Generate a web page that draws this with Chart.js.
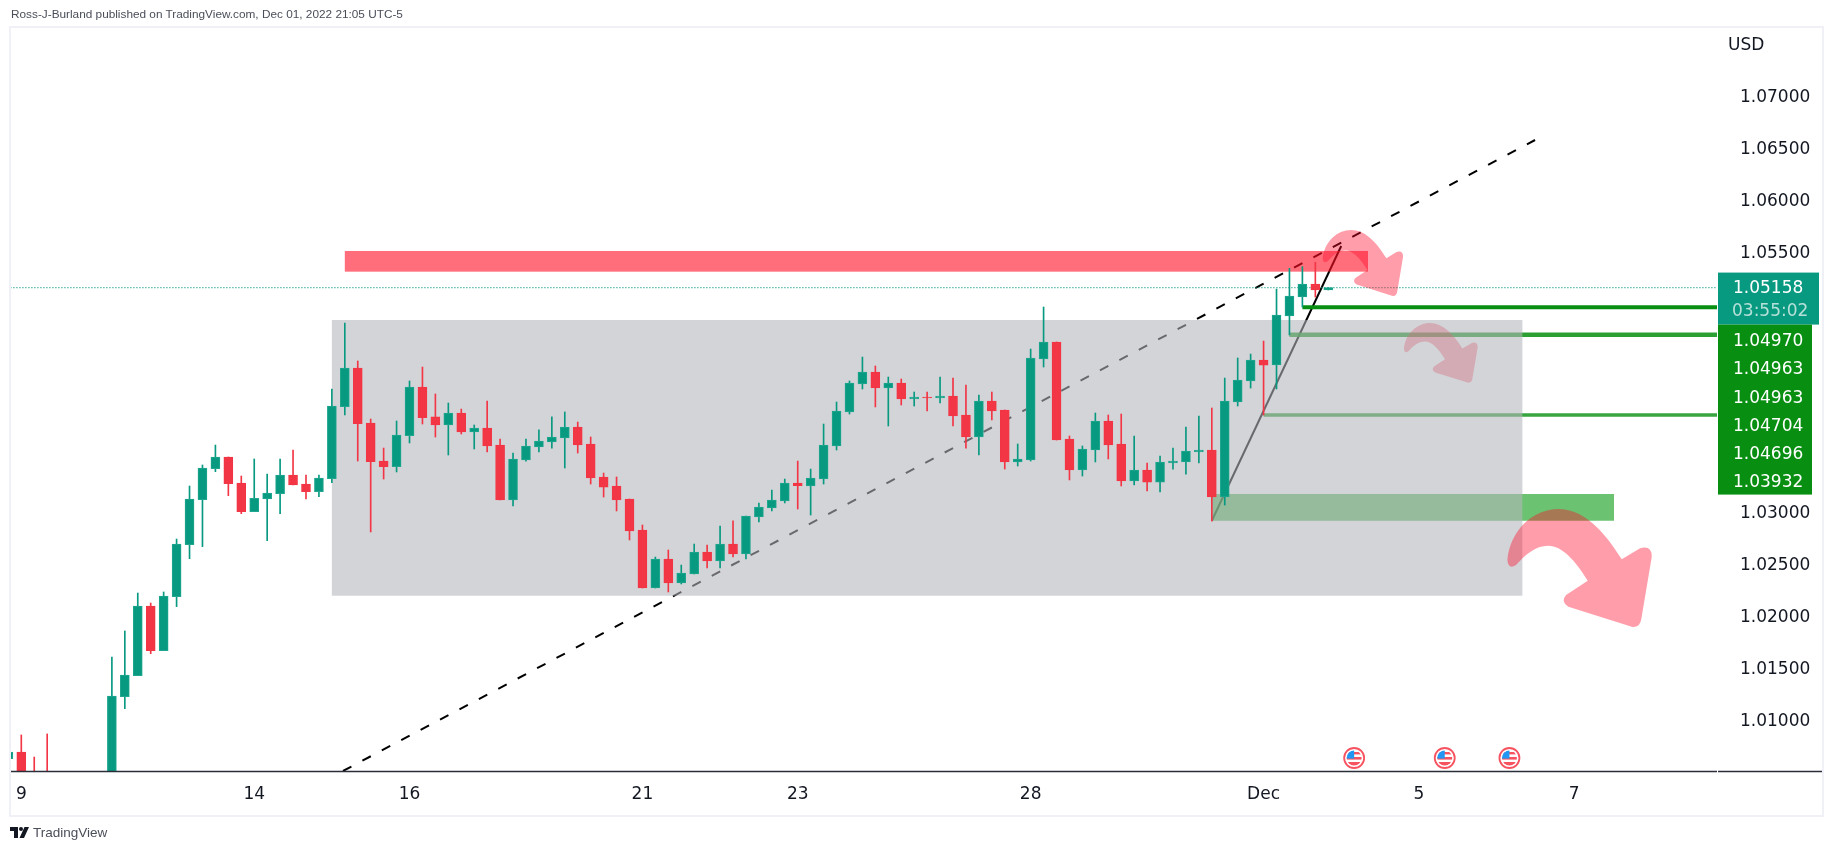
<!DOCTYPE html>
<html>
<head>
<meta charset="utf-8">
<title>EUR/USD</title>
<script src="https://cdn.jsdelivr.net/npm/chart.js@4"></script>
<style>
  html, body { margin: 0; padding: 0; background: #fff; }
  #wrap { position: relative; width: 1834px; height: 850px; overflow: hidden; }
  #frame { position: absolute; left: 9px; top: 26px; width: 1811px; height: 787px; border: 2px solid #f0f1f6; }
  canvas { position: absolute; left: 0; top: 0; }
  #pub { position: absolute; left: 11px; top: 7px; font: 11.8px "Liberation Sans", sans-serif; color: #4a4e59; white-space: nowrap; }
  #brand { position: absolute; left: 33px; top: 825px; font: 13.5px "Liberation Sans", sans-serif; color: #4a4e59; }
  #logo { position: absolute; left: 10px; top: 827px; }
</style>
</head>
<body>
<div id="wrap">
  <div id="frame"></div>
  <canvas id="chart" width="1834" height="850"></canvas>
  <div id="pub">Ross-J-Burland published on TradingView.com, Dec 01, 2022 21:05 UTC-5</div>
  <svg id="logo" width="19" height="11" viewBox="0 0 19 11"><path d="M0 0H8V11H4V4H0Z M19 0L14 11H9.5L14.5 0Z" fill="#131722"/><circle cx="11" cy="2" r="2" fill="#131722"/></svg>
  <div id="brand">TradingView</div>
</div>
<script>
// 4h candles, first one is index -1 (cut by the left edge). nulls are below the visible range
const firstIndex = -1;
const opens = [1.00628, 1.00692, 1.0040, 1.0035, null, null, null, null, 1.0005, 1.01224, 1.01426, 1.02096, 1.01667, 1.02186, 1.02686, 1.03119, 1.03417, 1.03529, 1.03279, 1.03003, 1.03125, 1.03176, 1.03356, 1.03269, 1.03196, 1.03321, 1.04013, 1.04385, 1.03856, 1.0349, 1.03436, 1.03734, 1.04202, 1.03914, 1.03837, 1.03952, 1.03769, 1.03808, 1.03644, 1.03115, 1.035, 1.03625, 1.03673, 1.03712, 1.03817, 1.03654, 1.03337, 1.0325, 1.03125, 1.02827, 1.02269, 1.02548, 1.02317, 1.02404, 1.02615, 1.02529, 1.02692, 1.02596, 1.02952, 1.03039, 1.03106, 1.03279, 1.0325, 1.03317, 1.03635, 1.03962, 1.04231, 1.04346, 1.04192, 1.0424, 1.04087, 1.04106, 1.04096, 1.04115, 1.03933, 1.03721, 1.04067, 1.03981, 1.03481, 1.035, 1.04471, 1.04635, 1.03702, 1.03404, 1.03596, 1.03875, 1.03654, 1.03298, 1.03404, 1.03288, 1.03471, 1.03481, 1.03577, 1.03596, 1.03144, 1.04058, 1.0426, 1.04462, 1.04414, 1.04885, 1.05067, 1.05192, 1.05135];
const highs = [1.00692, 1.00856, 1.00644, 1.00866, null, null, null, null, 1.01606, 1.01856, 1.02221, 1.02125, 1.02231, 1.0274, 1.0325, 1.03452, 1.03644, 1.03529, 1.03346, 1.0351, 1.03365, 1.0351, 1.03596, 1.03356, 1.03356, 1.04183, 1.04817, 1.04452, 1.03894, 1.03615, 1.03875, 1.0426, 1.04394, 1.04135, 1.04048, 1.0399, 1.03837, 1.04067, 1.03702, 1.03567, 1.03702, 1.03789, 1.03914, 1.03962, 1.03865, 1.03721, 1.03375, 1.03337, 1.03125, 1.02875, 1.02567, 1.02635, 1.0249, 1.02692, 1.02683, 1.02865, 1.02914, 1.02962, 1.03087, 1.03212, 1.03317, 1.0349, 1.03413, 1.03846, 1.04058, 1.0426, 1.0449, 1.04404, 1.04298, 1.04279, 1.04154, 1.04154, 1.04298, 1.04288, 1.04221, 1.04125, 1.04154, 1.03981, 1.03654, 1.04567, 1.04971, 1.04635, 1.03731, 1.03635, 1.03952, 1.03933, 1.03942, 1.03731, 1.03471, 1.03538, 1.03615, 1.03817, 1.03923, 1.04, 1.04288, 1.04481, 1.04519, 1.04644, 1.05144, 1.05343, 1.05359, 1.05401, 1.05158];
const lows = [1.00628, 1.0030, 1.0015, 1.0010, null, null, null, null, 1.0000, 1.01109, 1.01426, 1.01638, 1.01667, 1.0209, 1.02551, 1.02667, 1.03388, 1.03157, 1.02984, 1.03003, 1.02724, 1.02984, 1.0326, 1.03125, 1.03147, 1.03282, 1.03933, 1.0349, 1.02808, 1.03317, 1.03385, 1.03664, 1.03846, 1.03721, 1.03548, 1.0375, 1.03606, 1.03577, 1.03115, 1.03058, 1.0349, 1.03577, 1.03615, 1.03423, 1.03567, 1.03269, 1.03144, 1.0301, 1.02731, 1.02269, 1.02269, 1.02231, 1.02308, 1.02404, 1.02462, 1.02462, 1.02567, 1.02548, 1.02904, 1.0301, 1.03087, 1.03029, 1.02971, 1.03269, 1.03596, 1.03942, 1.04183, 1.0401, 1.03827, 1.04029, 1.04019, 1.03971, 1.04048, 1.03827, 1.03615, 1.03548, 1.03885, 1.03413, 1.03442, 1.0349, 1.04394, 1.03692, 1.03308, 1.03346, 1.03481, 1.0351, 1.0325, 1.0326, 1.03202, 1.03192, 1.03413, 1.03365, 1.03471, 1.02913, 1.03067, 1.04019, 1.04192, 1.03933, 1.04183, 1.04702, 1.04971, 1.05067, 1.05135];
const closes = [1.00692, 1.0035, 1.0025, 1.0020, null, null, null, null, 1.01231, 1.01433, 1.02096, 1.01667, 1.02192, 1.02692, 1.03125, 1.03423, 1.03529, 1.03273, 1.03003, 1.03131, 1.03183, 1.03356, 1.0326, 1.03196, 1.03327, 1.04019, 1.04385, 1.03849, 1.03484, 1.03436, 1.0374, 1.04202, 1.03907, 1.03837, 1.03952, 1.03769, 1.03808, 1.03635, 1.03115, 1.0351, 1.03635, 1.03683, 1.03721, 1.03817, 1.03644, 1.03327, 1.0324, 1.03115, 1.02817, 1.02269, 1.02548, 1.02317, 1.02413, 1.02615, 1.02529, 1.02692, 1.02596, 1.02962, 1.03048, 1.03115, 1.03279, 1.03253, 1.03327, 1.03644, 1.03971, 1.0424, 1.04346, 1.04192, 1.0424, 1.04087, 1.04106, 1.04096, 1.04115, 1.03923, 1.03721, 1.04067, 1.03971, 1.03481, 1.0351, 1.04481, 1.04635, 1.03692, 1.03404, 1.03606, 1.03875, 1.03644, 1.03298, 1.03404, 1.03288, 1.03481, 1.0349, 1.03587, 1.03596, 1.03144, 1.04067, 1.04269, 1.04462, 1.04413, 1.04894, 1.05077, 1.05192, 1.05135, 1.05158];

const dayIndex = [0, 18, 30, 48, 60, 78, 96, 108, 120];
const dayLabels = ['9', '14', '16', '21', '23', '28', 'Dec', '5', '7'];
const priceTicks = [1.07, 1.065, 1.06, 1.055, 1.03, 1.025, 1.02, 1.015, 1.01];

const lastPrice = 1.05158;
const countdown = '03:55:02';
const levelPrices = [1.0497, 1.04704, 1.03932];
const levelStarts = [99, 98, 96];
const tagLabels = ['1.04970', '1.04963', '1.04963', '1.04704', '1.04696', '1.03932'];

const dashedX = [24.86, 116.98];
const dashedY = [1.0051, 1.06577];
const solidX = [92, 102];
const solidY = [1.02916, 1.05558];

// [index from, index to, price top, price bottom]
const grayBox = [24, 116, 1.04846, 1.02195];
const greenBox = [92, 123.08, 1.03173, 1.02916];
const redBox = [25, 104.07, 1.0551, 1.05311];
const smallArrow = [106.85, 112.55, 1.04817, 1.04243];
const topArrow = [100.57, 106.78, 1.05712, 1.05077];
const bigArrow = [114.84, 126, 1.03029, 1.01894];
const eventIndex = [103, 110, 115];

const GREEN = '#089981', RED = '#f23645';

const candles = opens.map((o, i) => ({ i: i + firstIndex, o, h: highs[i], l: lows[i], c: closes[i] })).filter(d => d.o !== null);
const isUp = d => d.c >= d.o;

function fillBox(chart, box, color) {
  const { x, y } = chart.scales;
  const ctx = chart.ctx;
  const left = x.getPixelForValue(box[0]), right = x.getPixelForValue(box[1]);
  const top = y.getPixelForValue(box[2]), bottom = y.getPixelForValue(box[3]);
  ctx.fillStyle = color;
  ctx.fillRect(left, top, right - left, bottom - top);
}

// curved arrow, shape drawn in a 433x354 box and stretched on the given data box
function drawArrow(chart, box, color) {
  const { x, y } = chart.scales;
  const ctx = chart.ctx;
  const l = x.getPixelForValue(box[0]), r = x.getPixelForValue(box[1]);
  const t = y.getPixelForValue(box[2]), b = y.getPixelForValue(box[3]);
  const px = v => l + v / 433 * (r - l);
  const py = v => t + v / 354 * (b - t);
  const C = (a, b2, c, d, e, f) => ctx.bezierCurveTo(px(a), py(b2), px(c), py(d), px(e), py(f));
  const Q = (a, b2, c, d) => ctx.quadraticCurveTo(px(a), py(b2), px(c), py(d));
  ctx.save();
  ctx.beginPath();
  ctx.moveTo(px(0), py(153));
  C(8, 63, 78, 0, 153, 0);
  C(228, 0, 288, 63, 343, 151);
  ctx.lineTo(px(398), py(118));
  Q(433, 108, 433, 143);
  ctx.lineTo(px(402), py(328));
  Q(398, 358, 373, 353);
  ctx.lineTo(px(183), py(293));
  Q(158, 278, 176, 258);
  ctx.lineTo(px(241), py(215));
  C(203, 153, 163, 110, 123, 110);
  C(83, 110, 53, 138, 26, 168);
  Q(3, 183, 0, 153);
  ctx.closePath();
  ctx.fillStyle = color;
  ctx.fill();
  ctx.restore();
}

function drawFlag(ctx, cx, cy) {
  ctx.save();
  ctx.beginPath();
  ctx.arc(cx, cy, 10, 0, Math.PI * 2);
  ctx.fillStyle = '#fff';
  ctx.fill();
  ctx.strokeStyle = '#f7525f';
  ctx.lineWidth = 1.8;
  ctx.stroke();
  ctx.beginPath();
  ctx.arc(cx, cy, 7.5, 0, Math.PI * 2);
  ctx.clip();
  ctx.fillStyle = '#f7525f';
  ctx.fillRect(cx - 8, cy - 6, 16, 2.4);
  ctx.fillRect(cx - 8, cy - 1, 16, 2.6);
  ctx.fillRect(cx - 8, cy + 4, 16, 4);
  ctx.fillStyle = '#2196f3';
  ctx.fillRect(cx - 8, cy - 8, 8, 8.6);
  ctx.restore();
}

const drawings = {
  id: 'drawings',
  // zones sit above the trend lines but under the candles
  beforeDatasetDraw(chart, args) {
    if (chart.data.datasets[args.index].label !== 'wicks') return;
    const ctx = chart.ctx;
    ctx.save();
    ctx.beginPath();
    ctx.rect(chart.chartArea.left, chart.chartArea.top, chart.chartArea.width, chart.chartArea.height);
    ctx.clip();
    fillBox(chart, greenBox, 'rgba(8,153,18,0.6)');
    drawArrow(chart, smallArrow, 'rgba(255,13,42,0.4)');
    fillBox(chart, grayBox, 'rgba(179,181,188,0.58)');
    fillBox(chart, redBox, 'rgba(255,13,33,0.6)');
    ctx.restore();
  },
  afterDatasetsDraw(chart) {
    const ctx = chart.ctx;
    const { x, y } = chart.scales;
    drawArrow(chart, topArrow, 'rgba(255,13,42,0.4)');
    drawArrow(chart, bigArrow, 'rgba(255,13,42,0.4)');
    eventIndex.forEach(i => drawFlag(ctx, x.getPixelForValue(i), 758));

    ctx.save();
    ctx.strokeStyle = '#2a2e39';
    ctx.lineWidth = 1.5;
    ctx.beginPath();
    ctx.moveTo(11, 771.5);
    ctx.lineTo(1717, 771.5);
    ctx.moveTo(1718, 771.5);
    ctx.lineTo(1822, 771.5);
    ctx.stroke();

    const labelX = 1733;
    ctx.textBaseline = 'middle';
    ctx.textAlign = 'left';
    ctx.font = '17px "DejaVu Sans"';
    ctx.fillStyle = '#131722';
    ctx.fillText('USD', 1728, 46);

    const lastY = y.getPixelForValue(lastPrice);
    ctx.fillStyle = GREEN;
    ctx.fillRect(1718, lastY - 15, 101, 52);
    ctx.fillStyle = '#fff';
    ctx.fillText(lastPrice.toFixed(5), labelX, lastY + 1);
    ctx.fillStyle = '#b5e0d8';
    ctx.fillText(countdown, labelX - 1, lastY + 24);

    ctx.fillStyle = '#088f11';
    ctx.fillRect(1718, lastY + 37, 94, 170);
    ctx.fillStyle = '#fff';
    tagLabels.forEach((t, n) => ctx.fillText(t, labelX, lastY + 54 + n * 28.3));
    ctx.restore();
  }
};

const lineSet = (label, xs, ys, color, width, dash, order) => ({
  type: 'line', label, order,
  data: xs.map((v, n) => ({ x: v, y: ys[n] })),
  borderColor: color, borderWidth: width, borderDash: dash,
  pointRadius: 0, tension: 0, fill: false, borderCapStyle: 'butt'
});

new Chart(document.getElementById('chart'), {
  type: 'bar',
  data: {
    datasets: [
      {
        label: 'bodies', order: 1, grouped: false, barThickness: 9, borderWidth: 1, borderSkipped: false,
        data: candles.map(d => ({ x: d.i, y: [d.o, d.c] })),
        backgroundColor: candles.map(d => isUp(d) ? GREEN : RED),
        borderColor: candles.map(d => isUp(d) ? '#21a78f' : RED)
      },
      {
        label: 'wicks', order: 2, grouped: false, barThickness: 1,
        data: candles.map(d => ({ x: d.i, y: [d.l, d.h] })),
        backgroundColor: candles.map(d => isUp(d) ? GREEN : RED)
      },
      lineSet('last', [-2, 132], [lastPrice, lastPrice], GREEN, 1.3, [1, 2], 3),
      lineSet('level1', [levelStarts[0], 132], [levelPrices[0], levelPrices[0]], '#088f11', 4, [], 4),
      lineSet('level2', [levelStarts[1], 132], [levelPrices[1], levelPrices[1]], 'rgba(8,143,17,0.85)', 4.5, [], 4),
      lineSet('level3', [levelStarts[2], 132], [levelPrices[2], levelPrices[2]], 'rgba(8,143,17,0.8)', 3.5, [], 4),
      lineSet('solid', solidX, solidY, '#000', 2, [], 5),
      lineSet('dashed', dashedX, dashedY, '#000', 2, [9.5, 12.46], 5)
    ]
  },
  options: {
    responsive: false,
    animation: false,
    devicePixelRatio: 1,
    layout: { padding: { left: 11, top: 28, right: 12, bottom: 35 } },
    plugins: { legend: { display: false }, tooltip: { enabled: false } },
    scales: {
      x: {
        type: 'linear',
        min: -0.796,
        max: 131.04,
        offset: false,
        grid: { display: false },
        border: { display: false },
        afterFit: s => { s.height = 44; },
        afterBuildTicks: s => { s.ticks = dayIndex.map(v => ({ value: v })); },
        ticks: {
          autoSkip: false,
          maxRotation: 0,
          padding: 5,
          color: '#131722',
          font: { family: 'DejaVu Sans', size: 17 },
          callback: v => dayLabels[dayIndex.indexOf(v)]
        }
      },
      y: {
        type: 'linear',
        position: 'right',
        min: 1.005096,
        max: 1.07654,
        grid: { display: false },
        border: { display: false },
        afterFit: s => { s.width = 105; },
        afterBuildTicks: s => { s.ticks = priceTicks.map(v => ({ value: v })); },
        ticks: {
          autoSkip: false,
          padding: 15,
          labelOffset: 2,
          color: '#131722',
          font: { family: 'DejaVu Sans', size: 17 },
          callback: v => v.toFixed(5)
        }
      }
    }
  },
  plugins: [drawings]
});
</script>
</body>
</html>
